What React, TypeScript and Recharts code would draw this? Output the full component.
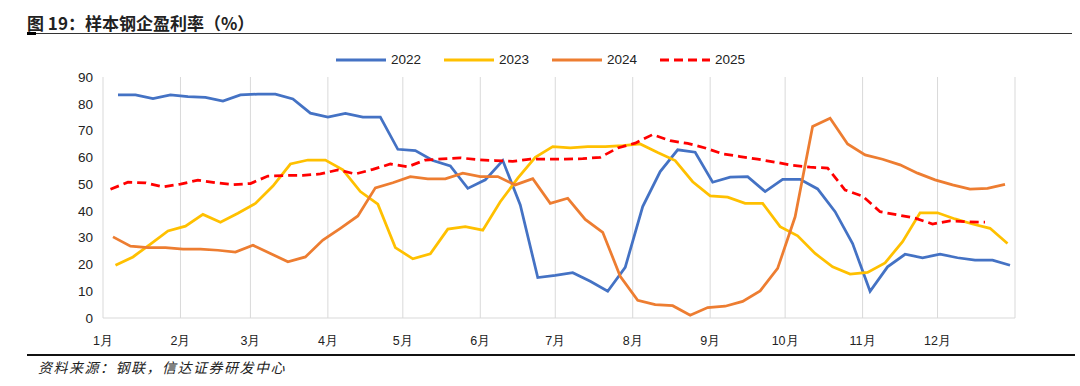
import { LineChart, Line, XAxis, YAxis, CartesianGrid } from 'recharts';

// month axis: day-of-year where each month starts, plus the year end
const MONTH_LABELS = ['1月', '2月', '3月', '4月', '5月', '6月', '7月', '8月', '9月', '10月', '11月', '12月'];
const MONTH_START_DAYS = [0, 31, 59, 90, 120, 151, 181, 212, 243, 273, 304, 334, 365];
const Y_TICKS = [0, 10, 20, 30, 40, 50, 60, 70, 80, 90];

// weekly readings; first reading's day-of-year per year
const FIRST_DAY_2022 = 6;
const FIRST_DAY_2023 = 5;
const FIRST_DAY_2024 = 4;
const FIRST_DAY_2025 = 3;

const rate2022 = [
  83.3, 83.3, 81.9, 83.3, 82.7, 82.4, 81.0, 83.3, 83.6, 83.6, 81.8, 76.5, 75.0, 76.4, 75.0, 75.0,
  63.0, 62.5, 58.8, 56.8, 48.4, 51.6, 58.8, 42.2, 15.1, 15.9, 16.9, 13.7, 10.0, 18.9, 41.6, 54.7,
  62.8, 61.9, 50.7, 52.6, 52.8, 47.2, 51.8, 51.8, 48.2, 39.7, 27.8, 10.0, 19.1, 23.8, 22.5, 23.8,
  22.5, 21.6, 21.6, 19.7,
];
const rate2023 = [
  19.7, 22.8, 27.6, 32.5, 34.3, 38.7, 35.8, 39.1, 42.8, 49.3, 57.5, 59.0, 59.0, 55.3, 47.2, 42.5,
  26.3, 22.1, 24.0, 33.2, 34.1, 32.8, 43.4, 52.2, 60.0, 64.0, 63.5, 64.0, 64.0, 64.4, 65.0, 61.8,
  58.8, 50.9, 45.6, 45.1, 42.8, 42.8, 34.1, 30.7, 24.1, 19.1, 16.4, 17.0, 20.6, 28.5, 39.3, 39.3,
  37.0, 35.1, 33.5, 27.8,
];
const rate2024 = [
  30.3, 26.8, 26.3, 26.3, 25.7, 25.7, 25.3, 24.6, 27.2, 24.1, 21.0, 22.8, 29.1, 33.5, 38.1, 48.6,
  50.5, 52.8, 52.0, 52.0, 54.1, 52.8, 52.8, 49.7, 52.0, 42.8, 44.7, 36.8, 32.0, 15.6, 6.6, 5.0,
  4.6, 1.0, 3.9, 4.4, 6.2, 10.1, 18.5, 37.8, 71.5, 74.6, 65.0, 60.9, 59.3, 57.2, 54.1, 51.6,
  49.7, 48.1, 48.4, 49.9,
];
const rate2025 = [
  48.1, 50.7, 50.5, 49.0, 50.0, 51.5, 50.5, 49.8, 50.2, 53.0, 53.2, 53.3, 53.8, 55.3, 53.8, 55.5,
  57.5, 56.5, 59.0, 59.4, 59.8, 59.1, 58.8, 58.5, 59.3, 59.3, 59.3, 59.5, 60.0, 63.5, 65.3, 68.5,
  66.2, 65.2, 63.5, 61.3, 60.3, 59.3, 58.2, 57.0, 56.3, 56.0, 47.8, 45.5, 39.7, 38.5, 37.3, 35.1,
  36.3, 35.9, 35.8,
];

const weekly = (firstDay: number, values: number[]) =>
  values.map((value, i) => ({ day: firstDay + 7 * i, value }));

const series = [
  { name: '2022', color: '#4472C4', dash: undefined, data: weekly(FIRST_DAY_2022, rate2022) },
  { name: '2023', color: '#FFC000', dash: undefined, data: weekly(FIRST_DAY_2023, rate2023) },
  { name: '2024', color: '#ED7D31', dash: undefined, data: weekly(FIRST_DAY_2024, rate2024) },
  { name: '2025', color: '#FF0000', dash: '9 5', data: weekly(FIRST_DAY_2025, rate2025) },
];

const font = '"Liberation Sans", Arial, sans-serif';
const cjk = '"Noto Sans CJK SC", sans-serif';

const monthLabel = (d: number) => {
  const i = MONTH_START_DAYS.indexOf(d);
  return i >= 0 && i < MONTH_LABELS.length ? MONTH_LABELS[i] : '';
};

export default function App() {
  return (
    <div style={{ position: 'absolute', left: 0, top: 0, width: 1080, height: 386, background: '#fff', overflow: 'hidden' }}>
      <div style={{ position: 'absolute', left: 27, top: 10, fontFamily: cjk, fontWeight: 700, fontSize: 17, color: '#222', whiteSpace: 'nowrap' }}>
        图 19：样本钢企盈利率（%）
      </div>
      <div style={{ position: 'absolute', left: 27, top: 33, width: 1045, height: 1, background: '#333' }} />
      <div style={{ position: 'absolute', left: 27, top: 32, width: 9, height: 3, background: '#000' }} />

      <div style={{ position: 'absolute', left: 0, top: 51, width: 1080, display: 'flex', justifyContent: 'center', fontFamily: font, fontSize: 13.5, color: '#222' }}>
        {series.map((s) => (
          <div key={s.name} style={{ display: 'flex', alignItems: 'center', margin: '0 11px' }}>
            <svg width={52} height={18}>
              <line x1={1} y1={9} x2={51} y2={9} stroke={s.color} strokeWidth={3} strokeDasharray={s.dash} />
            </svg>
            <span style={{ marginLeft: 4, lineHeight: '18px' }}>{s.name}</span>
          </div>
        ))}
      </div>

      <div style={{ position: 'absolute', left: 0, top: 0 }}>
        <LineChart width={1080} height={350} margin={{ top: 77, right: 65, bottom: 0, left: 0 }}>
          <CartesianGrid horizontal={false} stroke="#d9d9d9" />
          <XAxis
            type="number"
            dataKey="day"
            domain={[0, 365]}
            ticks={MONTH_START_DAYS}
            interval={0}
            tickFormatter={monthLabel}
            height={32}
            tickLine={false}
            axisLine={{ stroke: '#d9d9d9' }}
            tickMargin={12}
            tick={{ fontFamily: font, fontSize: 12.5, fill: '#222' }}
          />
          <YAxis
            domain={[0, 90]}
            ticks={Y_TICKS}
            interval={0}
            width={103}
            axisLine={false}
            tickLine={false}
            tickMargin={4}
            tick={{ fontFamily: font, fontSize: 13.5, fill: '#222' }}
          />
          {series.map((s) => (
            <Line
              key={s.name}
              data={s.data}
              dataKey="value"
              name={s.name}
              type="linear"
              stroke={s.color}
              strokeWidth={2.75}
              strokeDasharray={s.dash}
              dot={false}
              activeDot={false}
              isAnimationActive={false}
            />
          ))}
        </LineChart>
      </div>

      <div style={{ position: 'absolute', left: 27, top: 354, width: 1048, height: 2, background: '#111' }} />
      <div style={{ position: 'absolute', left: 38, top: 357, fontFamily: cjk, fontStyle: 'italic', fontSize: 14, letterSpacing: 1.5, color: '#222', whiteSpace: 'nowrap' }}>
        资料来源：钢联，信达证券研发中心
      </div>
    </div>
  );
}
